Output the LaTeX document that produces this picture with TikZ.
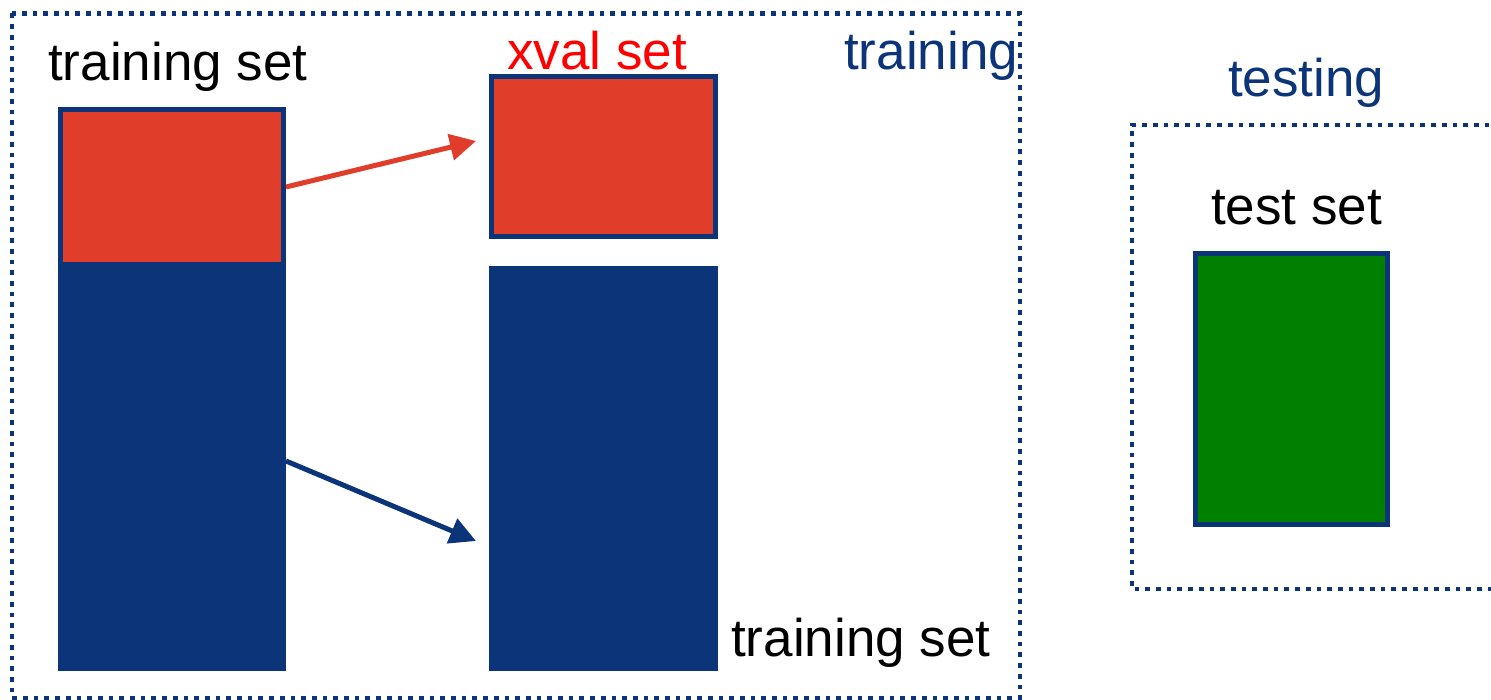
\documentclass[tikz,border=0pt]{standalone}
\usepackage{fontspec}
\setmainfont{Liberation Sans}
\usetikzlibrary{arrows.meta}
\definecolor{setblue}{HTML}{0B3479}
\definecolor{setred}{HTML}{E03E2A}
\definecolor{setgreen}{HTML}{007F00}
\definecolor{labred}{HTML}{FF0000}
\begin{document}
\begin{tikzpicture}[x=1pt,y=-1pt,
  lbl/.style={anchor=base west, inner sep=0pt, font=\fontsize{53}{60}\selectfont},
  framed/.style={draw=setblue, line width=5pt, inner sep=0pt, outer sep=2.5pt},
  filledblock/.style={fill=setblue, inner sep=0pt, outer sep=0pt},
  phase/.style={draw=setblue, line width=4.5pt, dash pattern=on 4.7pt off 6pt},
  link/.style={line width=5pt, -{Triangle[length=26pt,width=26pt]}}]
\useasboundingbox (0,0) rectangle (1491,700);

% phase frames
\draw[phase] (12,13.5) rectangle (1020,698);
\draw[phase] (1500,125) -- (1132,125) -- (1132,589) -- (1500,589);

% original training set: held-out part on top of the rest
\node[filledblock, minimum width=228pt, minimum height=404pt] (lblue) at (172,469) {};
\node[framed, fill=setred, minimum width=223pt, minimum height=155pt] (lred) at (172,187) {};

% split result
\node[framed, fill=setred, minimum width=224pt, minimum height=160pt] (xval) at (603.5,156.5) {};
\node[filledblock, minimum width=229pt, minimum height=405pt] (rblue) at (603.5,468.5) {};

% test set
\node[framed, fill=setgreen, minimum width=192pt, minimum height=271pt] (test) at (1291.5,389) {};

% labels
\node[lbl] (ltrain) at (48,81) {training set};
\node[lbl, text=labred] (lxval) at (507,70) {xval set};
\node[lbl, text=setblue] (ltraining) at (844,70) {training};
\node[lbl] (lrtrain) at (731,656) {training set};
\node[lbl, text=setblue] (ltesting) at (1228,97) {testing};
\node[lbl] (ltest) at (1211,225) {test set};

% arrows
\coordinate (redtip) at (476,141);
\coordinate (bluesrc) at (286,461);
\coordinate (bluetip) at (476,541);
\draw[link, draw=setred, fill=setred] (lred.east) -- (redtip);
\draw[link, draw=setblue, fill=setblue] (bluesrc) -- (bluetip);
\end{tikzpicture}
\end{document}
